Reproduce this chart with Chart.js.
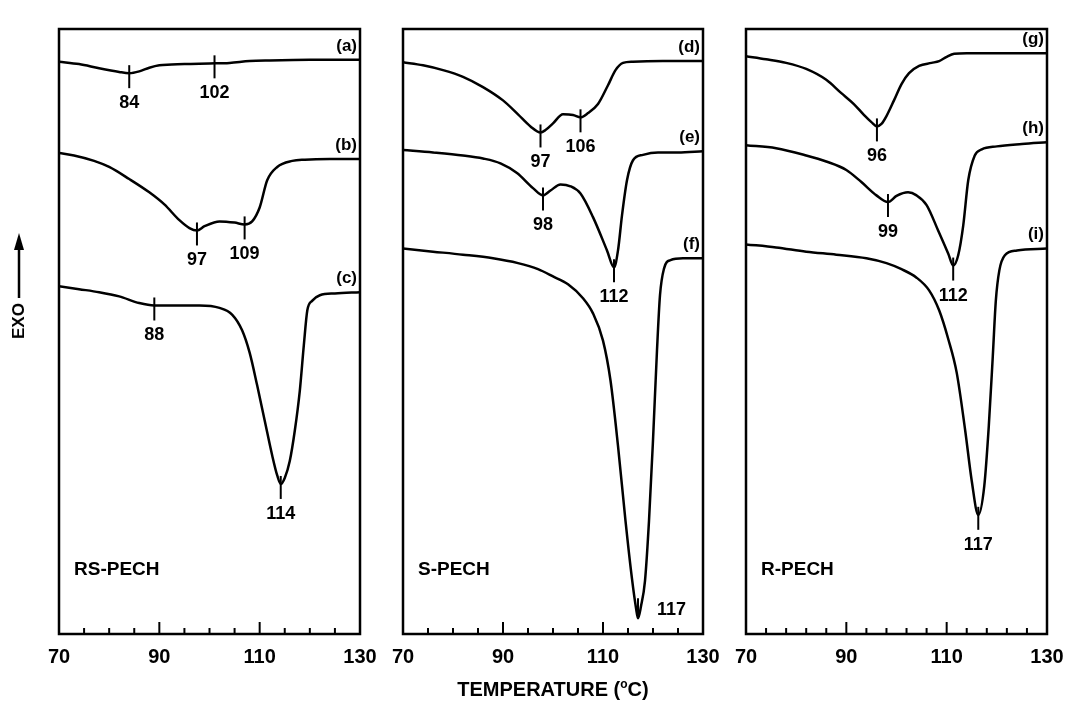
<!DOCTYPE html>
<html>
<head>
<meta charset="utf-8">
<script src="https://cdn.jsdelivr.net/npm/chart.js@4.4.1/dist/chart.umd.min.js"></script>
<style>
    body { margin: 0; background: #fff; width: 1065px; height: 701px; overflow: hidden; position: relative;
           font-family: 'Liberation Sans', Arial, sans-serif; }
    canvas { position: absolute; left: 0; top: 0; }
    #xtitle { position: absolute; left: 0; width: 1106px; top: 678px; text-align: center;
              font-weight: bold; font-size: 20px; line-height: 23px; color: #000; }
    #xtitle sup { font-size: 12px; vertical-align: 8px; line-height: 0; }
    #ytitle { position: absolute; left: 19px; top: 321px; transform: translate(-50%, -50%) rotate(-90deg);
              font-weight: bold; font-size: 17px; color: #000; white-space: nowrap; }
</style>
</head>
<body>
<canvas id="rsChart" width="1100" height="701"></canvas>
<canvas id="sChart" width="1100" height="701"></canvas>
<canvas id="rChart" width="1100" height="701"></canvas>
<div id="ytitle">EXO</div>
<div id="xtitle">TEMPERATURE (<sup>o</sup>C)</div>
<script>
// DSC traces: temperature (deg C) vs heat flow (arbitrary units, exo up)

// RS-PECH
const tempA = [70, 74, 78, 82, 84, 86, 88, 90, 95, 100, 104, 108, 112, 120, 130];
const flowA = [94.6, 94.2, 93.5, 92.9, 92.7, 93.0, 93.6, 94.0, 94.2, 94.3, 94.4, 94.7, 94.8, 94.9, 94.9];
const tempB = [70, 73, 77, 80, 84, 88, 91, 94, 96, 97.5, 99, 102, 105, 107, 108.5, 110, 111.5, 113.5, 116.5, 119, 124, 130];
const flowB = [79.5, 79.1, 78.2, 77.2, 75.2, 73.0, 71.0, 68.4, 67.1, 66.7, 67.4, 68.2, 68.0, 67.7, 68.2, 70.5, 75.0, 77.2, 78.2, 78.4, 78.5, 78.5];
const tempC = [70, 74, 78, 82, 86, 89, 92, 98, 102, 104.5, 106.5, 108, 109.5, 111, 112.5, 113.5, 114.2, 115, 116, 117, 118, 118.8, 119.5, 120.5, 122, 125, 130];
const flowC = [57.5, 57.0, 56.5, 55.8, 54.7, 54.3, 54.3, 54.3, 53.9, 52.8, 50.2, 46.5, 41.1, 35.3, 29.5, 26.2, 24.8, 25.8, 28.6, 33.6, 40.2, 47.7, 53.5, 55.1, 56.0, 56.3, 56.5];

// S-PECH
const tempD = [70, 74, 78, 82, 86, 90, 93, 95.5, 97.5, 98.5, 100, 102, 104, 105.5, 107, 109, 111, 112.5, 114, 116, 122, 130];
const flowD = [94.5, 94.0, 93.2, 92.1, 90.4, 88.2, 85.9, 83.9, 82.9, 83.3, 84.4, 85.9, 85.8, 85.4, 86.1, 87.6, 90.7, 93.2, 94.4, 94.6, 94.7, 94.7];
const tempE = [70, 76, 82, 86, 89.5, 92.8, 96, 98, 99.5, 101.5, 103.5, 105.5, 108, 110.8, 112.2, 113, 113.8, 114.8, 116, 118, 121, 125, 130];
const flowE = [80.0, 79.6, 79.1, 78.6, 77.8, 76.2, 73.7, 72.5, 73.3, 74.3, 74.0, 72.8, 68.9, 63.4, 60.6, 63.4, 69.2, 75.0, 78.3, 79.2, 79.6, 79.6, 79.8];
const tempF = [70, 76, 82, 88, 93, 97, 100, 103, 106, 108, 110, 111.5, 113, 114.5, 115.8, 116.6, 117, 117.6, 118.4, 119.2, 120, 120.8, 121.4, 122.2, 123.5, 126, 130];
const flowF = [63.7, 63.2, 62.7, 62.1, 61.3, 60.3, 59.1, 57.8, 55.5, 53.0, 48.5, 41.9, 31.1, 18.7, 9.1, 4.3, 2.6, 4.6, 8.8, 18.7, 32.0, 46.9, 56.0, 60.4, 61.8, 62.1, 62.1];

// R-PECH
const tempG = [70, 74, 78, 82, 86, 89, 91.5, 93.5, 95, 96.1, 97, 98, 99.5, 101, 102.5, 104.5, 107, 108.5, 110, 111.5, 114, 120, 130];
const flowG = [95.5, 95.0, 94.4, 93.4, 91.6, 89.4, 87.6, 85.8, 84.6, 83.9, 84.3, 85.6, 88.2, 90.9, 92.7, 93.9, 94.4, 94.7, 95.4, 95.9, 96.0, 96.0, 96.0];
const tempH = [70, 76, 82, 86, 90, 93, 96, 98.3, 100, 102.3, 104, 106, 108.3, 110.3, 111.3, 112.3, 113.3, 114.3, 115.6, 117, 120, 125, 130];
const flowH = [80.8, 80.3, 79.1, 78.1, 76.7, 74.7, 72.5, 71.4, 72.4, 73.0, 72.5, 70.9, 66.7, 62.9, 60.9, 62.6, 67.5, 75.0, 79.1, 80.1, 80.6, 81.0, 81.3];
const tempI = [70, 76, 82, 88, 94, 98, 101, 104, 106.5, 108.5, 110.3, 112, 113.7, 115, 116.3, 117.5, 118.4, 119.2, 119.8, 120.5, 121.6, 124, 130];
const flowI = [64.4, 63.9, 63.2, 62.7, 62.1, 61.3, 60.3, 58.9, 56.8, 53.5, 48.8, 43.2, 33.6, 25.3, 19.7, 24.5, 34.4, 46.0, 55.1, 60.1, 62.6, 63.4, 63.7];

// peak markers: which curve, where the mark sits, and the printed value
const peakCurveRS = [0, 0, 1, 1, 2, 2];
const peakTempRS  = [84, 101, 97.5, 107, 89, 114.2];
const peakTextRS  = ['84', '102', '97', '109', '88', '114'];
const peakCurveS  = [0, 0, 1, 1, 2];
const peakTempS   = [97.5, 105.5, 98, 112.2, 117];
const peakTextS   = ['97', '106', '98', '112', '117'];
const peakCurveR  = [0, 1, 1, 2];
const peakTempR   = [96.1, 98.3, 111.3, 116.3];
const peakTextR   = ['96', '99', '112', '117'];

const xTickLabels = [70, 90, 110, 130];

const FONT = "'Liberation Sans', Arial, sans-serif";
const CANVAS_W = 1100;

const panels = [
    { canvas: 'rsChart', name: 'RS-PECH', left: 59, right: 360, minorStep: 5,
      temps: [tempA, tempB, tempC], flows: [flowA, flowB, flowC], tags: ['(a)', '(b)', '(c)'],
      peakCurve: peakCurveRS, peakTemp: peakTempRS, peakText: peakTextRS, rightLabel: -1, arrow: true },
    { canvas: 'sChart', name: 'S-PECH', left: 403, right: 703, minorStep: 5,
      temps: [tempD, tempE, tempF], flows: [flowD, flowE, flowF], tags: ['(d)', '(e)', '(f)'],
      peakCurve: peakCurveS, peakTemp: peakTempS, peakText: peakTextS, rightLabel: 4, arrow: false },
    { canvas: 'rChart', name: 'R-PECH', left: 746, right: 1047, minorStep: 4,
      temps: [tempG, tempH, tempI], flows: [flowG, flowH, flowI], tags: ['(g)', '(h)', '(i)'],
      peakCurve: peakCurveR, peakTemp: peakTempR, peakText: peakTextR, rightLabel: -1, arrow: false }
];

// linear lookup on a trace, used to put the peak marks on the curve
function flowAt(temps, flows, t) {
    for (let i = 1; i < temps.length; i++) {
        if (t <= temps[i]) {
            const f = (t - temps[i - 1]) / (temps[i] - temps[i - 1]);
            return flows[i - 1] + f * (flows[i] - flows[i - 1]);
        }
    }
    return flows[flows.length - 1];
}

const decorPlugin = {
    id: 'dscDecor',
    afterDraw(chart) {
        const p = chart.options.plugins.dscDecor;
        const ctx = chart.ctx;
        const area = chart.chartArea;
        const xs = chart.scales.x;
        const ys = chart.scales.y;
        ctx.save();
        ctx.strokeStyle = '#000';
        ctx.fillStyle = '#000';

        // frame
        ctx.lineWidth = 2.5;
        ctx.strokeRect(area.left, area.top, area.right - area.left, area.bottom - area.top);

        // inward ticks on the temperature axis
        ctx.lineWidth = 2;
        for (let v = 70 + p.minorStep; v < 130; v += p.minorStep) {
            const x = xs.getPixelForValue(v);
            const len = (v === 90 || v === 110) ? 12 : 6;
            ctx.beginPath();
            ctx.moveTo(x, area.bottom);
            ctx.lineTo(x, area.bottom - len);
            ctx.stroke();
        }

        // curve tags (a), (b)...
        ctx.font = 'bold 17px ' + FONT;
        ctx.textAlign = 'right';
        ctx.textBaseline = 'middle';
        p.tags.forEach((tag, i) => {
            const last = p.flows[i][p.flows[i].length - 1];
            ctx.fillText(tag, area.right - 3, ys.getPixelForValue(last) - 14);
        });

        // peak marks and values
        ctx.font = 'bold 18px ' + FONT;
        ctx.lineWidth = 2;
        p.peakTemp.forEach((t, k) => {
            const c = p.peakCurve[k];
            const x = xs.getPixelForValue(t);
            const y = ys.getPixelForValue(flowAt(p.temps[c], p.flows[c], t));
            ctx.beginPath();
            if (k === p.rightLabel) {
                ctx.moveTo(x, y - 20);
                ctx.lineTo(x, y);
                ctx.stroke();
                ctx.textAlign = 'left';
                ctx.fillText(p.peakText[k], x + 19, y - 8);
            } else {
                ctx.moveTo(x, y - 8);
                ctx.lineTo(x, y + 15);
                ctx.stroke();
                ctx.textAlign = 'center';
                ctx.fillText(p.peakText[k], x, y + 30);
            }
        });

        // sample name
        ctx.font = 'bold 19px ' + FONT;
        ctx.textAlign = 'left';
        ctx.fillText(p.name, area.left + 15, area.bottom - 64);

        // EXO arrow
        if (p.arrow) {
            ctx.lineWidth = 2.5;
            ctx.beginPath();
            ctx.moveTo(19, 298);
            ctx.lineTo(19, 244);
            ctx.stroke();
            ctx.beginPath();
            ctx.moveTo(19, 233);
            ctx.lineTo(14, 250);
            ctx.lineTo(24, 250);
            ctx.closePath();
            ctx.fill();
        }
        ctx.restore();
    }
};

panels.forEach(p => {
    const datasets = p.temps.map((temps, i) => ({
        data: temps.map((t, j) => ({ x: t, y: p.flows[i][j] })),
        borderColor: '#000',
        borderWidth: 2.5,
        pointRadius: 0,
        cubicInterpolationMode: 'monotone',
        fill: false
    }));

    new Chart(document.getElementById(p.canvas), {
        type: 'line',
        data: { datasets: datasets },
        plugins: [decorPlugin],
        options: {
            responsive: false,
            animation: false,
            events: [],
            layout: { padding: { left: p.left, right: CANVAS_W - p.right, top: 29, bottom: 21 } },
            plugins: {
                legend: { display: false },
                tooltip: { enabled: false },
                dscDecor: p
            },
            scales: {
                x: {
                    type: 'linear',
                    min: 70,
                    max: 130,
                    grid: { display: false, drawTicks: false },
                    border: { display: false },
                    afterBuildTicks: axis => { axis.ticks = xTickLabels.map(v => ({ value: v })); },
                    ticks: {
                        autoSkip: false,
                        maxRotation: 0,
                        padding: 11,
                        color: '#000',
                        font: { family: FONT, size: 20, weight: 'bold' }
                    }
                },
                y: { display: false, min: 0, max: 100 }
            }
        }
    });
});
</script>
</body>
</html>
